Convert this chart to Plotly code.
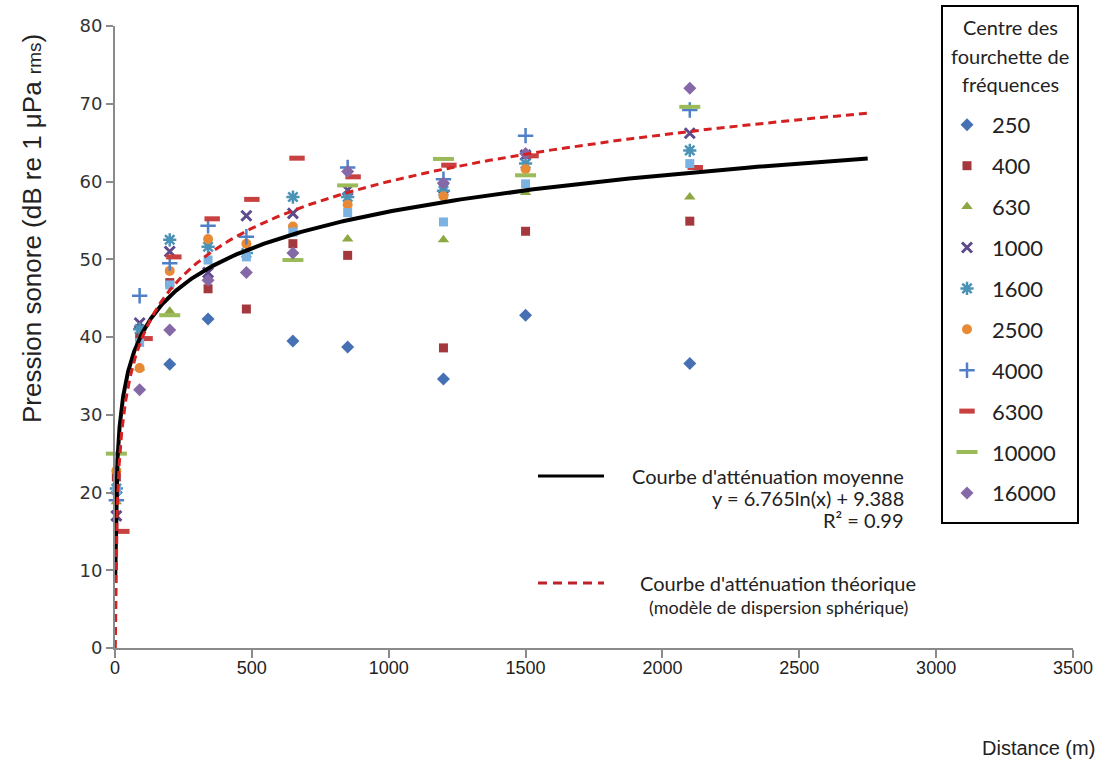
import numpy as np
import plotly.graph_objects as go

# ---------------- data ----------------
DIST = [5, 90, 200, 340, 480, 650, 850, 1200, 1500, 2100]
DIST_6300 = [25, 110, 215, 355, 500, 665, 870, 1220, 1520, 2120]

s250 = [20.0, None, 36.5, 42.3, None, 39.5, 38.7, 34.6, 42.8, 36.6]
s400 = [22.0, 40.0, 47.0, 46.2, 43.6, 52.0, 50.5, 38.6, 53.6, 54.9]
s630 = [18.8, 36.0, 43.3, None, None, None, 52.6, 52.5, 58.6, 58.0]
s1000 = [17.0, 41.8, 51.0, 48.3, 55.6, 55.9, 58.9, 59.2, 63.4, 66.2]
s1600 = [20.5, 41.0, 52.5, 51.6, 50.8, 58.0, 58.0, 58.8, 62.3, 64.0]
s2500 = [22.8, 36.0, 48.5, 52.6, 52.0, 54.2, 57.0, 58.1, 61.6, None]
s4000 = [19.0, 45.3, 49.5, 54.3, 52.9, None, 61.8, 60.3, 65.9, 69.2]
s6300 = [15.0, 39.8, 50.3, 55.2, 57.7, 63.0, 60.6, 62.1, 63.3, 61.8]
s10000 = [25.0, None, 42.8, None, None, 49.9, 59.5, 62.9, 60.8, 69.6]
s16000 = [None, 33.2, 40.9, 47.3, 48.3, 50.8, 61.3, 59.8, 63.6, 72.0]
s_extra = [20.3, 39.3, 46.7, 49.9, 50.3, 53.5, 56.0, 54.8, 59.7, 62.3]

LEGEND_TITLE = ["Centre des", "fourchette de", "fréquences"]

# trend line coefficients (as printed on the chart) and theoretical model
FIT_A, FIT_B = 6.765, 9.388
SPH_K = 20.0
CURVE_XMAX = 2750

# ---------------- figure ----------------
fig = go.Figure()

series = [
    ("250", DIST, s250, dict(symbol="diamond", size=10, color="#4670B4")),
    ("400", DIST, s400, dict(symbol="square", size=9, color="#A5383C")),
    ("630", DIST, s630, dict(symbol="triangle-up", size=10, color="#8DA842")),
    ("1000", DIST, s1000, dict(symbol="x-thin-open", size=10, color="#5E4A8C",
                               line=dict(width=3, color="#5E4A8C"))),
    ("1600", DIST, s1600, dict(symbol="asterisk-open", size=11, color="#4B93B6",
                               line=dict(width=2.5, color="#4B93B6"))),
    ("2500", DIST, s2500, dict(symbol="circle", size=10, color="#E88A35")),
    ("4000", DIST, s4000, dict(symbol="cross-thin-open", size=11, color="#5080C8",
                               line=dict(width=2.5, color="#5080C8"))),
    ("6300", DIST_6300, s6300, dict(symbol="line-ew-open", size=11, color="#C8403F",
                                    line=dict(width=5, color="#C8403F"))),
    ("10000", DIST, s10000, dict(symbol="line-ew-open", size=15, color="#9BBB59",
                                 line=dict(width=4, color="#9BBB59"))),
    ("16000", DIST, s16000, dict(symbol="diamond", size=10, color="#8568A8")),
]

for i, (name, xs, ys, mk) in enumerate(series):
    fig.add_trace(go.Scatter(x=xs, y=ys, mode="markers", name=name, marker=mk,
                             legendgroup=name, cliponaxis=False))

fig.add_trace(go.Scatter(x=DIST, y=s_extra, mode="markers", name="Moyenne",
                         marker=dict(symbol="square", size=9, color="#7AB2E2"),
                         showlegend=False, cliponaxis=False))

xc = np.geomspace(1, CURVE_XMAX, 500)
fig.add_trace(go.Scatter(x=xc, y=FIT_A * np.log(xc) + FIT_B, mode="lines",
                         line=dict(color="black", width=4), showlegend=False,
                         name="Courbe d'atténuation moyenne"))
fig.add_trace(go.Scatter(x=xc, y=SPH_K * np.log10(xc), mode="lines",
                         line=dict(color="#D42020", width=3, dash="8px,5px"),
                         showlegend=False, name="Courbe d'atténuation théorique"))

L, R, T, B = 115, 26, 26, 116
W, H = 1099, 764
PW, PH = W - L - R, H - T - B


def px(x):
    return (x - L) / PW


def py(y):
    return (H - B - y) / PH


axis_common = dict(showgrid=False, zeroline=False, showline=True, linecolor="#8a8a8a",
                   linewidth=2, ticks="outside", tickcolor="#8a8a8a", tickwidth=2)

fig.update_layout(
    width=W, height=H,
    margin=dict(l=L, r=R, t=T, b=B, autoexpand=False),
    paper_bgcolor="white", plot_bgcolor="white",
    xaxis=dict(range=[0, 3500], dtick=500, ticklen=8, ticklabelstandoff=-6,
               tickfont=dict(family="Liberation Sans Narrow, Liberation Sans", size=18, color="#222"),
               **axis_common),
    yaxis=dict(range=[0, 80], dtick=10, ticklen=7,
               tickfont=dict(family="DejaVu Sans", size=18, color="#333"),
               **axis_common),
    legend=dict(x=px(942), y=py(104), xanchor="left", yanchor="top",
                borderwidth=0, bgcolor="rgba(0,0,0,0)",
                traceorder="grouped", tracegroupgap=9.3, itemwidth=40,
                maxheight=600,
                font=dict(family="Lato", size=22, color="#222")),
    showlegend=True,
)

# legend frame + title
fig.add_shape(type="rect", xref="paper", yref="paper", x0=px(942), x1=px(1078),
              y0=py(523), y1=py(6), line=dict(color="black", width=2),
              fillcolor="white", layer="below")
for txt, yy in zip(LEGEND_TITLE, [27, 56, 84]):
    fig.add_annotation(xref="paper", yref="paper", showarrow=False, text=txt,
                       x=px(1010), y=py(yy), xanchor="center", yanchor="middle",
                       font=dict(family="Lato", size=20, color="#222"))

ann_font = dict(family="Lato", size=20, color="#222")
annots = [
    dict(text="Pression sonore (dB re 1 μPa <span style='font-size:19px'>rms</span>)",
         x=px(32), y=py(229), textangle=-90, xanchor="center",
         font=dict(family="Liberation Sans", size=26, color="#222")),
    dict(text="Distance (m)", x=px(1038), y=py(748), xanchor="center",
         font=dict(family="Liberation Sans Narrow, Liberation Sans", size=20, color="#222")),
    dict(text="Courbe d'atténuation moyenne", x=px(906), y=py(476), xanchor="right", font=ann_font),
    dict(text="y = 6.765ln(x) + 9.388", x=px(906), y=py(498), xanchor="right", font=ann_font),
    dict(text="R² = 0.99", x=px(906), y=py(520), xanchor="right", font=ann_font),
    dict(text="Courbe d'atténuation théorique", x=px(918), y=py(583), xanchor="right", font=ann_font),
    dict(text="(modèle de dispersion sphérique)", x=px(910), y=py(607), xanchor="right",
         font=dict(family="Lato", size=18, color="#222")),
]
for a in annots:
    fig.add_annotation(xref="paper", yref="paper", showarrow=False, yanchor="middle", **a)

fig.add_shape(type="line", xref="paper", yref="paper", x0=px(538), x1=px(604),
              y0=py(476), y1=py(476), line=dict(color="black", width=3))
fig.add_shape(type="line", xref="paper", yref="paper", x0=px(538), x1=px(604),
              y0=py(583), y1=py(583), line=dict(color="#C0202A", width=3, dash="9px,6px"))

fig.write_html("out.html", config={"displayModeBar": False},
               post_script="document.body.style.margin='0px';")
